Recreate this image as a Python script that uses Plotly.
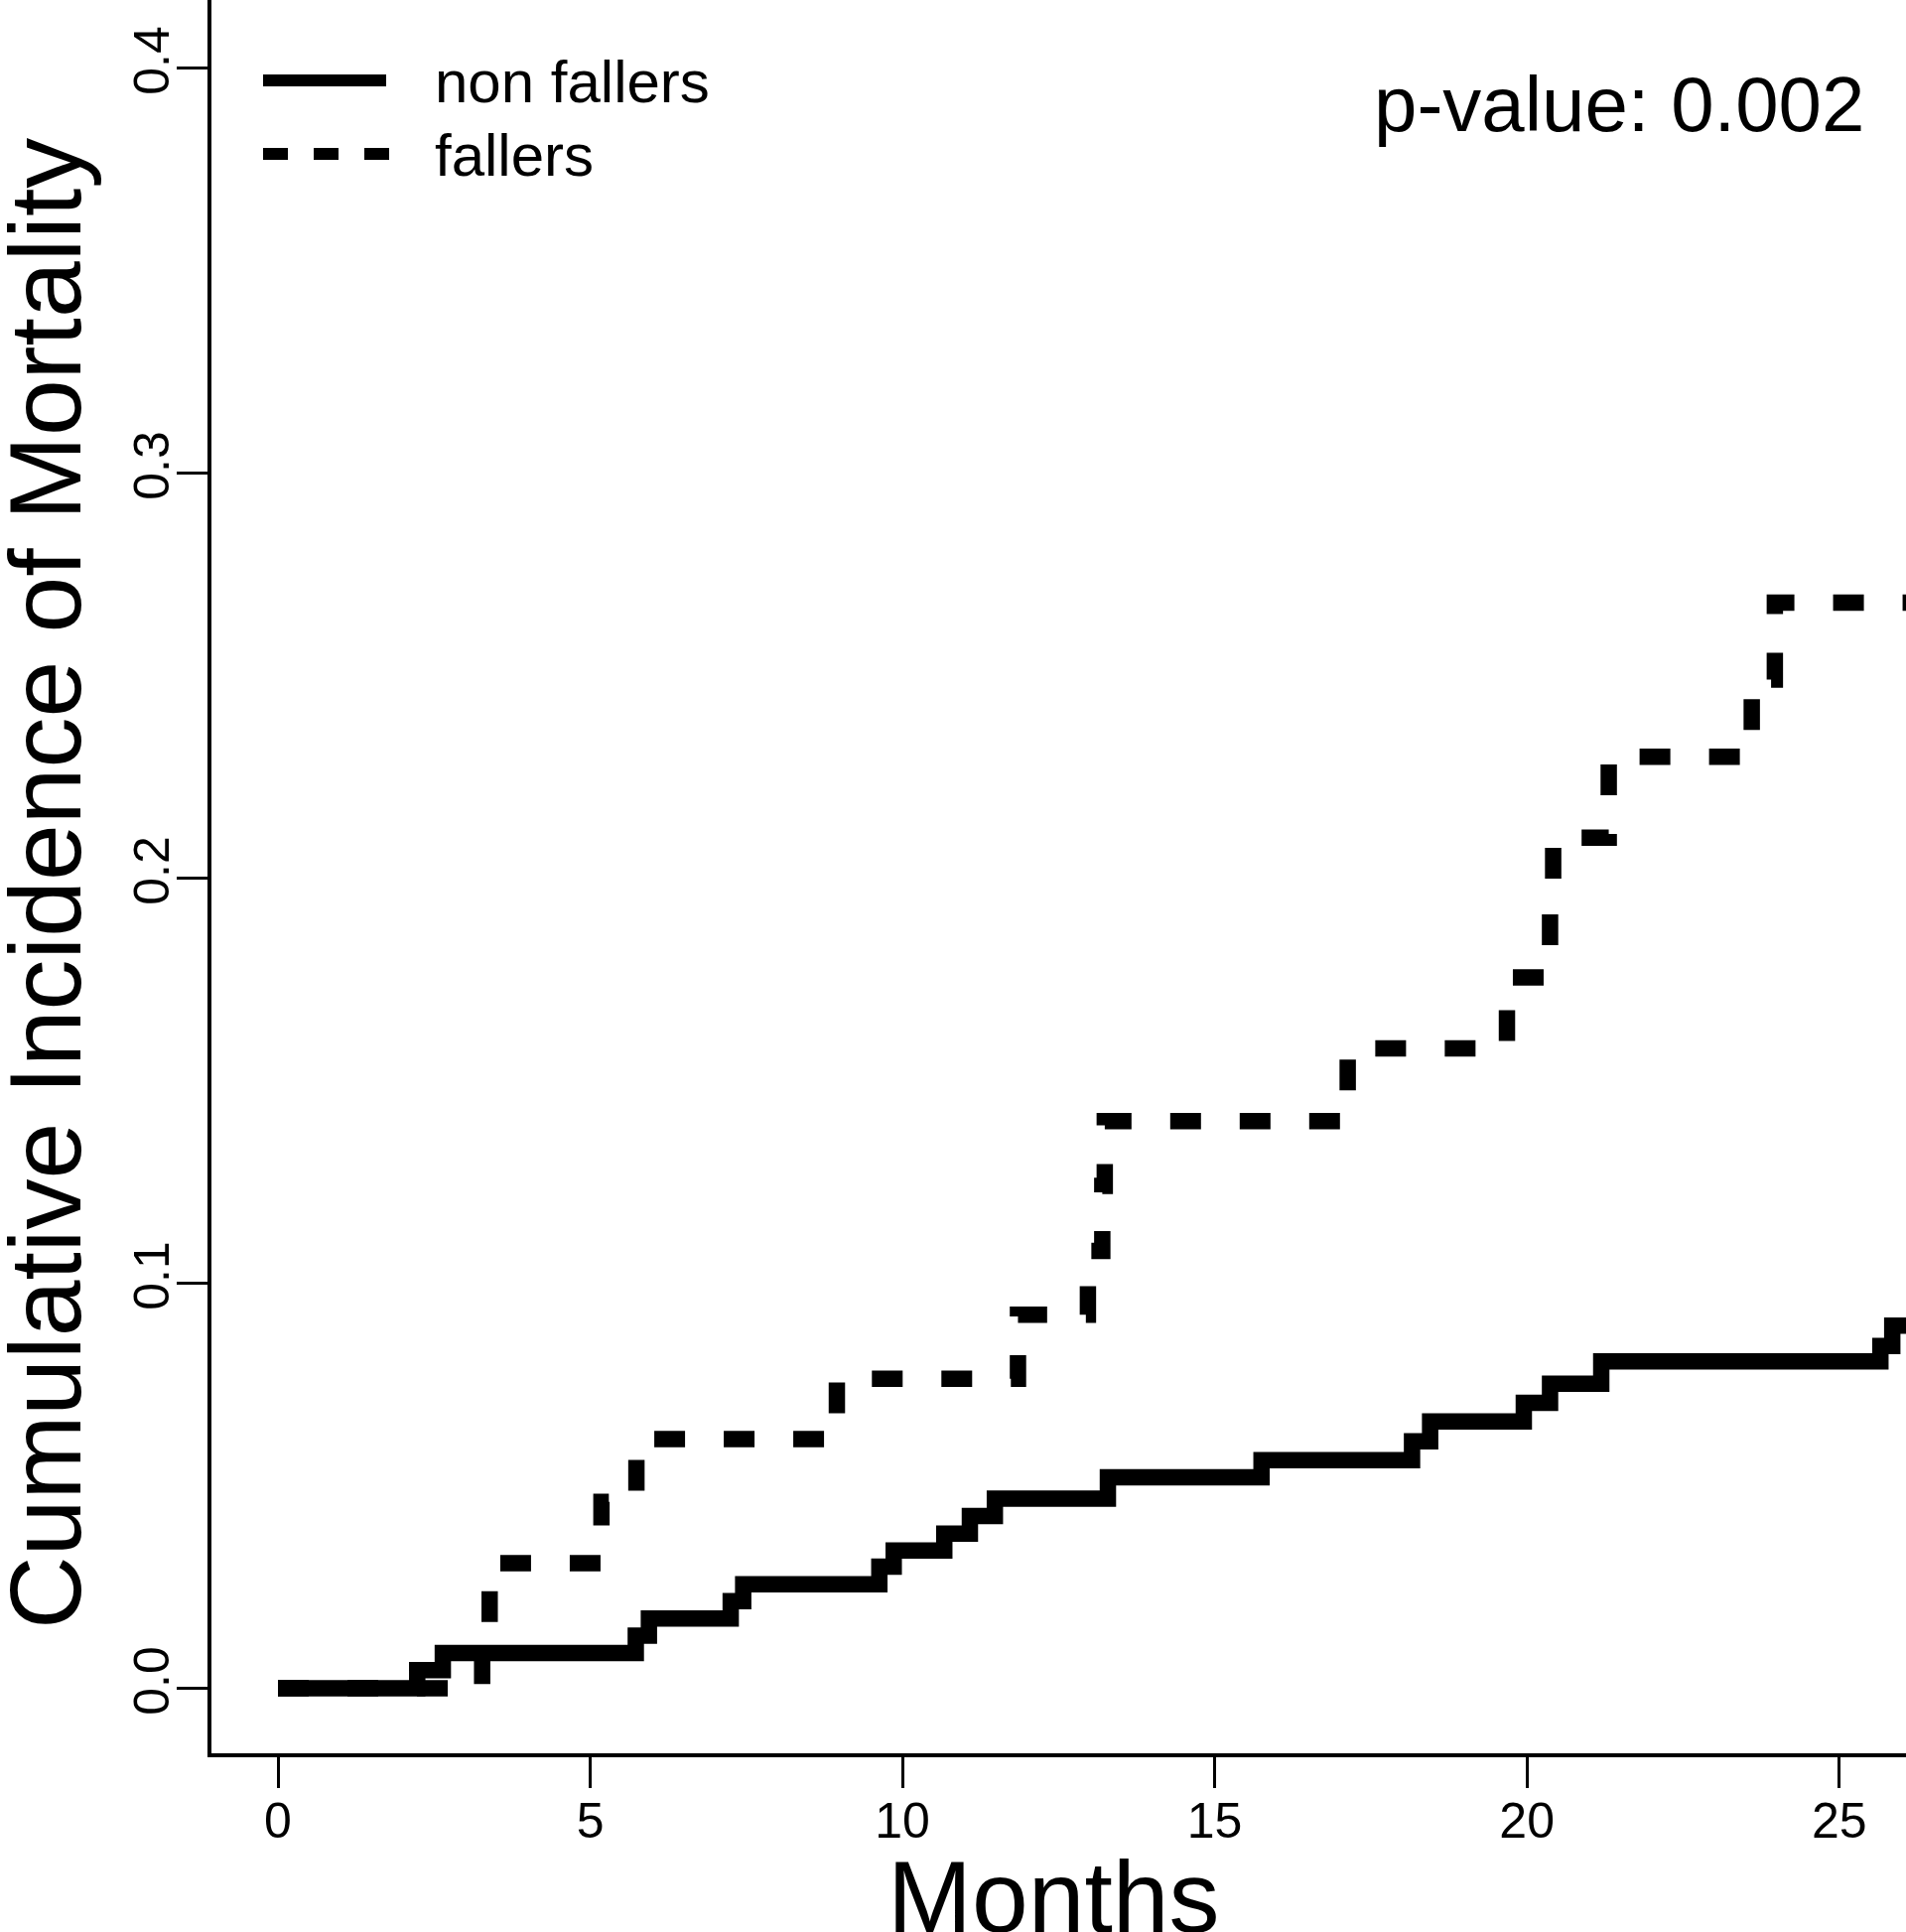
import plotly.graph_objects as go

# ---------------- data ----------------
nonfaller_months = [0, 2.23, 2.64, 5.73, 5.94, 7.25, 7.45, 9.63, 9.86, 10.67, 11.08, 11.48,
                    13.29, 15.75, 18.16, 18.45, 19.95, 20.37, 21.19, 25.66, 25.85, 26.5]
nonfaller_cif = [0.0, 0.0045, 0.0087, 0.0130, 0.0172, 0.0215, 0.0257, 0.0300, 0.0340, 0.0382,
                 0.0425, 0.0468, 0.0521, 0.0563, 0.0610, 0.0659, 0.0705, 0.0752, 0.0807,
                 0.0845, 0.0895, 0.0895]

faller_months = [0, 3.27, 3.39, 5.18, 5.74, 8.95, 11.85, 12.97, 13.20, 13.24, 17.13,
                 19.68, 20.37, 20.42, 21.31, 23.60, 23.97, 26.5]
faller_cif = [0.0, 0.0155, 0.0309, 0.0460, 0.0615, 0.0764, 0.0922, 0.1080, 0.1240, 0.1400,
              0.1580, 0.1755, 0.1930, 0.2100, 0.2300, 0.2490, 0.2680, 0.2680]

series_names = ["non fallers", "fallers"]
x_ticks = [0, 5, 10, 15, 20, 25]
y_ticks = [0.0, 0.1, 0.2, 0.3, 0.4]
y_tick_labels = ["0.0", "0.1", "0.2", "0.3", "0.4"]
x_title = "Months"
y_title = "Cumulative Incidence of Mortality"
p_text = "p-value: 0.002"

# ---------------- layout geometry ----------------
W, H = 1920, 1946
L, R, T, B = 213, 0, 0, 180
PW, PH = W - L - R, H - T - B
FONT = "Liberation Sans, Arial, Helvetica, sans-serif"


def px_x(px):
    return (px - L) / PW


def px_y(py):
    return (H - B - py) / PH


fig = go.Figure()
fig.add_trace(go.Scatter(
    x=faller_months, y=faller_cif, mode="lines", name=series_names[1],
    line=dict(shape="hv", color="black", width=16.5, dash="31px,39px"),
    showlegend=False, hoverinfo="skip"))
fig.add_trace(go.Scatter(
    x=nonfaller_months, y=nonfaller_cif, mode="lines", name=series_names[0],
    line=dict(shape="hv", color="black", width=16.5),
    showlegend=False, hoverinfo="skip"))

axis_common = dict(
    showgrid=False, zeroline=False, showline=True, linecolor="black", linewidth=4,
    ticks="outside", ticklen=31, tickwidth=3, tickcolor="black",
    tickfont=dict(family=FONT, size=50, color="black"),
)
fig.update_xaxes(range=[-1.065, 26.07], tickvals=x_ticks, ticklabelstandoff=-10, **axis_common)
fig.update_yaxes(range=[-0.01605, 0.4168], tickvals=y_ticks, ticktext=y_tick_labels,
                 tickangle=-90, ticklabelstandoff=-12, **axis_common)

annotations = [
    dict(text=x_title, xref="paper", yref="paper", x=px_x(1061), y=px_y(1911),
         xanchor="center", yanchor="middle", showarrow=False,
         font=dict(family=FONT, size=102, color="black")),
    dict(text=y_title, xref="paper", yref="paper", x=px_x(46), y=px_y(890),
         xanchor="center", yanchor="middle", showarrow=False, textangle=-90,
         font=dict(family=FONT, size=102, color="black")),
    dict(text=p_text, xref="paper", yref="paper", x=px_x(1880), y=px_y(105),
         xanchor="right", yanchor="middle", showarrow=False,
         font=dict(family=FONT, size=78, color="black")),
    dict(text=series_names[0], xref="paper", yref="paper", x=px_x(436), y=px_y(82),
         xanchor="left", yanchor="middle", showarrow=False,
         font=dict(family=FONT, size=60, color="black")),
    dict(text=series_names[1], xref="paper", yref="paper", x=px_x(436), y=px_y(156),
         xanchor="left", yanchor="middle", showarrow=False,
         font=dict(family=FONT, size=60, color="black")),
]

shapes = [
    dict(type="line", xref="paper", yref="paper", x0=px_x(265), x1=px_x(389),
         y0=px_y(81), y1=px_y(81), line=dict(color="black", width=12)),
    dict(type="line", xref="paper", yref="paper", x0=px_x(265), x1=px_x(392),
         y0=px_y(155), y1=px_y(155), line=dict(color="black", width=12, dash="25px,26px")),
]

fig.update_layout(
    width=W, height=H, autosize=False,
    margin=dict(l=L, r=R, t=T, b=B, pad=0),
    paper_bgcolor="white", plot_bgcolor="white",
    annotations=annotations, shapes=shapes, showlegend=False,
)

fig.write_html("out.html", config={"displayModeBar": False},
               post_script="document.body.style.margin='0px';")
